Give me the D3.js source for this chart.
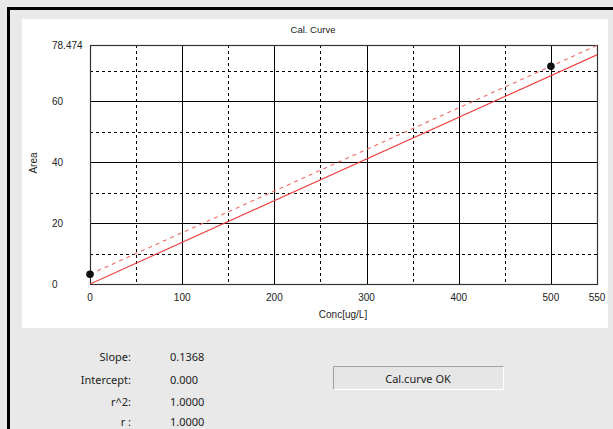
<!DOCTYPE html>
<html><head><meta charset="utf-8">
<script src="https://cdn.jsdelivr.net/npm/d3@7"></script>
<style>
html,body{margin:0;padding:0;background:#e9e9e9;}
svg{display:block;}
</style></head>
<body>
<svg id="c" width="613" height="429"></svg>
<script>
// ---- data ----
const title = "Cal. Curve";
const xLabel = "Conc[ug/L]";
const yLabel = "Area";
const xMajorTicks = [0, 100, 200, 300, 400, 500, 550];
const xMinorTicks = [50, 150, 250, 350, 450];
const yMajorTicks = [0, 20, 40, 60, 78.474];
const yMinorTicks = [10, 30, 50, 70];
const pointConc = [0, 500];
const pointArea = [3.2, 71.5];
const slope = 0.1368;
const intercept = 0.0;
const statLabels = ["Slope:", "Intercept:", "r^2:", "r :"];
const statValues = ["0.1368", "0.000", "1.0000", "1.0000"];
const statusText = "Cal.curve OK";

const svg = d3.select("#c");
// window frame
svg.append("rect").attr("x",0).attr("y",0).attr("width",613).attr("height",429).attr("fill","#e9e9e9");
svg.append("rect").attr("x",7).attr("y",7).attr("width",620).attr("height",430).attr("fill","none").attr("stroke","#000").attr("stroke-width",3).attr("transform","translate(1.5,1.5)");
// white chart panel
svg.append("rect").attr("x",22).attr("y",19).attr("width",586).attr("height",309).attr("fill","#ffffff");

const L = 90, R = 597, T = 45, B = 284;
const x = d3.scaleLinear().domain([0, 550]).range([L, R]);
const y = d3.scaleLinear().domain([0, 78.474]).range([B, T]);

const g = svg.append("g");
// minor dashed grid
g.selectAll("line.vmin").data(xMinorTicks).join("line")
  .attr("x1", d => Math.round(x(d))+0.5).attr("x2", d => Math.round(x(d))+0.5)
  .attr("y1", T).attr("y2", B)
  .attr("stroke","#000").attr("stroke-width",1).attr("stroke-dasharray","3,3");
g.selectAll("line.hmin").data(yMinorTicks).join("line")
  .attr("y1", d => Math.round(y(d))+0.5).attr("y2", d => Math.round(y(d))+0.5)
  .attr("x1", L).attr("x2", R)
  .attr("stroke","#000").attr("stroke-width",1).attr("stroke-dasharray","3,3");
// major solid grid
g.selectAll("line.vmaj").data(xMajorTicks).join("line")
  .attr("x1", d => Math.round(x(d))+0.5).attr("x2", d => Math.round(x(d))+0.5)
  .attr("y1", T).attr("y2", B)
  .attr("stroke","#000").attr("stroke-width",1);
g.selectAll("line.hmaj").data(yMajorTicks).join("line")
  .attr("y1", d => Math.round(y(d))+0.5).attr("y2", d => Math.round(y(d))+0.5)
  .attr("x1", L).attr("x2", R)
  .attr("stroke","#000").attr("stroke-width",1);
// frame
g.append("rect").attr("x",L+0.5).attr("y",T+0.5).attr("width",R-L).attr("height",B-T)
  .attr("fill","none").attr("stroke","#333").attr("stroke-width",1.2);

// fit line (solid) and point-to-point line (dashed), clipped to plot
svg.append("clipPath").attr("id","clip").append("rect").attr("x",L).attr("y",T).attr("width",R-L).attr("height",B-T);
const line = d3.line().x(d => x(d[0])).y(d => y(d[1]));
const fitPts = [[0, intercept], [550, intercept + slope*550]];
g.append("path").attr("d", line(fitPts)).attr("fill","none")
  .attr("stroke","#ee3a3a").attr("stroke-width",1.1).attr("clip-path","url(#clip)");
const m = (pointArea[1]-pointArea[0])/(pointConc[1]-pointConc[0]);
const dashPts = [[0, pointArea[0]], [550, pointArea[0] + m*550]];
g.append("path").attr("d", line(dashPts)).attr("fill","none")
  .attr("stroke","#f06a6a").attr("stroke-width",1.1).attr("stroke-dasharray","4,4").attr("clip-path","url(#clip)");

// points
g.selectAll("circle.pt").data(pointConc.map((c,i)=>[c, pointArea[i]])).join("circle")
  .attr("cx", d => x(d[0])).attr("cy", d => y(d[1])).attr("r", 3.8).attr("fill","#111");

const font = "'Liberation Sans', Arial, sans-serif";
// title
svg.append("text").attr("x",313).attr("y",33).attr("text-anchor","middle")
  .attr("font-family",font).attr("font-size",9.5).attr("fill","#222").text(title);
// y tick labels
svg.selectAll("text.yt").data(yMajorTicks).join("text")
  .attr("x", 52).attr("y", d => y(d) + 3.5)
  .attr("font-family",font).attr("font-size",10).attr("fill","#222")
  .text(d => d3.format("~g")(d));
// x tick labels
svg.selectAll("text.xt").data(xMajorTicks).join("text")
  .attr("x", d => x(d)).attr("y", 301).attr("text-anchor","middle")
  .attr("font-family",font).attr("font-size",10).attr("fill","#222")
  .text(d => d);
// axis titles
svg.append("text").attr("x",343).attr("y",318).attr("text-anchor","middle")
  .attr("font-family",font).attr("font-size",10).attr("fill","#222").text(xLabel);
svg.append("text").attr("transform","translate(37,163) rotate(-90)").attr("text-anchor","middle")
  .attr("font-family",font).attr("font-size",10).attr("fill","#222").text(yLabel);

// stats
const sfont = "'Noto Sans', 'Open Sans', sans-serif";
const rowY = [361, 384, 406, 426];
svg.selectAll("text.sl").data(statLabels).join("text")
  .attr("x",131).attr("y",(d,i)=>rowY[i]).attr("text-anchor","end")
  .attr("font-family",sfont).attr("font-size",11).attr("fill","#222").text(d=>d);
svg.selectAll("text.sv").data(statValues).join("text")
  .attr("x",170).attr("y",(d,i)=>rowY[i])
  .attr("font-family",sfont).attr("font-size",11).attr("fill","#222").text(d=>d);

// status box
svg.append("rect").attr("x",333.5).attr("y",366.5).attr("width",170).attr("height",23)
  .attr("fill","#e6e6e6").attr("stroke","#fff");
svg.append("path").attr("d","M333.5,389.5 V366.5 H503.5").attr("fill","none").attr("stroke","#a0a0a0");
svg.append("text").attr("x",418).attr("y",382.5).attr("text-anchor","middle")
  .attr("font-family",sfont).attr("font-size",11).attr("fill","#222").text(statusText);
</script>
</body></html>
